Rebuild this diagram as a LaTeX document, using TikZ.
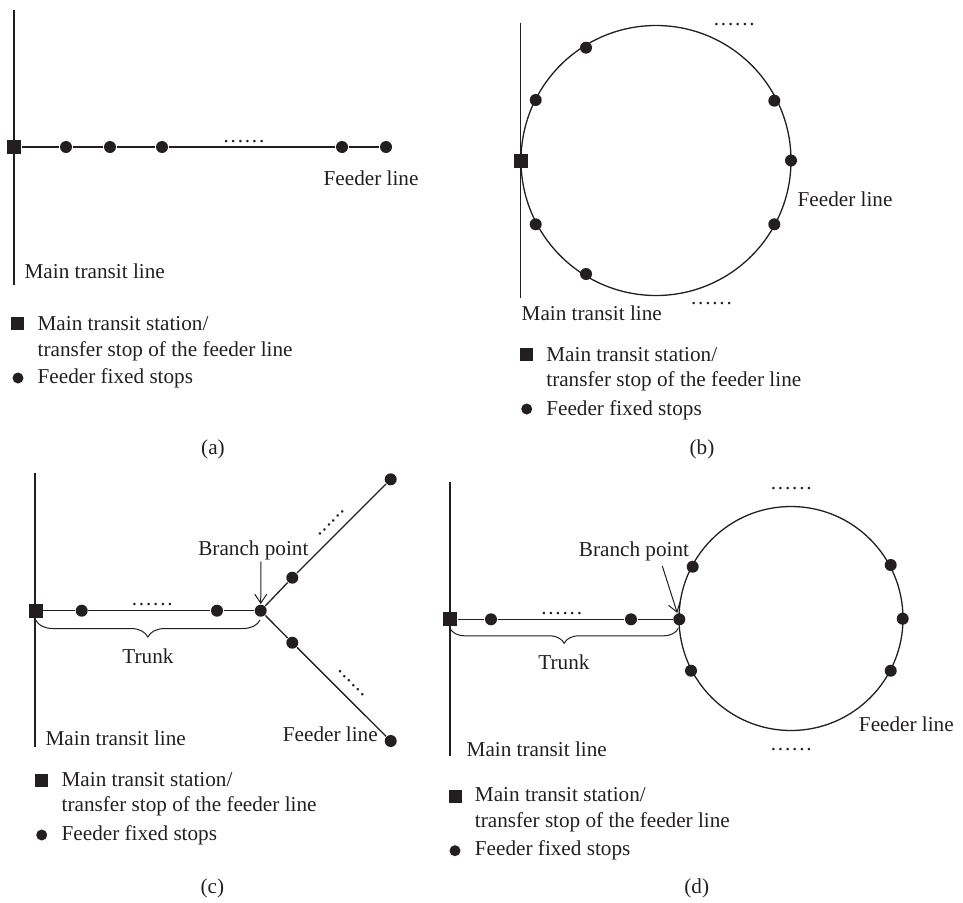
\documentclass[tikz,border=0pt]{standalone}
\usepackage{fontspec}
\setmainfont{Liberation Serif}
\usetikzlibrary{decorations.pathreplacing,arrows.meta}
\definecolor{ink}{RGB}{35,31,32}
\newcommand\sixdots[1]{.\kern#1.\kern#1.\kern#1.\kern#1.\kern#1.}
\begin{document}
\begin{tikzpicture}[x=1pt,y=-1pt,line width=1.3pt,draw=ink,
  every node/.style={font=\fontsize{21.2}{25}\selectfont,text=ink},
  stop/.style={circle,fill=ink,inner sep=0pt,minimum size=12pt},
  station/.style={rectangle,fill=ink,inner sep=0pt,minimum size=14pt},
  legsq/.style={rectangle,fill=ink,inner sep=0pt,minimum size=13pt},
  legdot/.style={circle,fill=ink,inner sep=0pt,minimum size=11pt},
  lbl/.style={anchor=base west,inner sep=0pt},
  ctr/.style={anchor=base,inner sep=0pt},
  ell/.style={inner sep=0pt},
  captxt/.style={inner sep=0pt},
  trunkbrace/.style={decorate,decoration={brace,mirror,amplitude=#1}},
  pointer/.style={-{Straight Barb[length=9pt,width=12pt]},line width=1pt}]
\useasboundingbox (0,0) rectangle (963,902);

% ---------------- (a) ----------------
\coordinate (aT) at (14,10);
\coordinate (aB) at (14,285);
\draw (aT) -- (aB);
\node[station] (aS) at (14,147) {};
\node[stop] (a1) at (66,147) {};
\node[stop] (a2) at (110,147) {};
\node[stop] (a3) at (162,147) {};
\node[stop] (a4) at (342,147) {};
\node[stop] (a5) at (386,147) {};
\draw (aS) -- (a1) -- (a2) -- (a3) -- (a4) -- (a5);
\node[ell] (aE) at (244,141.7) {\sixdots{1.8pt}};
\node[lbl] (aF) at (323,185) {Feeder line};
\node[lbl] (aM) at (24,278) {Main transit line};
\node[legsq] (aLS) at (17.5,323.5) {};
\node[lbl] (aL1) at (37,330) {Main transit station/};
\node[lbl] (aL2) at (37,356) {transfer stop of the feeder line};
\node[legdot] (aLD) at (18,378) {};
\node[lbl] (aL3) at (37,383) {Feeder fixed stops};
\node[captxt] (aC) at (213,449) {(a)};

% ---------------- (b) ----------------
\coordinate (bT) at (520.7,23);
\coordinate (bB) at (520.7,298);
\draw (bT) -- (bB);
\coordinate (bO) at (656,160.5);
\draw (bO) circle[radius=135];
\node[station] (bS) at (520.7,160.5) {};
\node[stop] (b1) at (586,47.7) {};
\node[stop] (b2) at (535.7,100) {};
\node[stop] (b3) at (774.3,100.7) {};
\node[stop] (b4) at (791,160.5) {};
\node[stop] (b5) at (774.3,224.3) {};
\node[stop] (b6) at (586,274) {};
\node[stop] (b7) at (535.7,224.3) {};
\node[ell] (bE1) at (734.3,25) {\sixdots{1.8pt}};
\node[ell] (bE2) at (711.5,304) {\sixdots{1.8pt}};
\node[lbl] (bF) at (797,206) {Feeder line};
\node[lbl] (bM) at (521,320) {Main transit line};
\node[legsq] (bLS) at (526.5,354.5) {};
\node[lbl] (bL1) at (545.7,361) {Main transit station/};
\node[lbl] (bL2) at (545.7,386) {transfer stop of the feeder line};
\node[legdot] (bLD) at (526.7,409) {};
\node[lbl] (bL3) at (545.7,415) {Feeder fixed stops};
\node[captxt] (bC) at (702,449) {(b)};

% ---------------- (c) ----------------
\coordinate (cT) at (35,472.7);
\coordinate (cB) at (35,747.3);
\draw (cT) -- (cB);
\node[station] (cS) at (35.7,610.7) {};
\node[stop] (c1) at (81.7,610.7) {};
\node[stop] (c2) at (217,610.7) {};
\node[stop] (cP) at (260.7,610.7) {};
\node[stop] (cU1) at (292.3,577.7) {};
\node[stop] (cU2) at (390.7,479.3) {};
\node[stop] (cD1) at (292.3,642.7) {};
\node[stop] (cD2) at (390.7,741) {};
\draw (cS) -- (c1) -- (c2) -- (cP);
\draw (cP) -- (cU1) -- (cU2);
\draw (cP) -- (cD1) -- (cD2);
\node[ell] (cE) at (152.3,605) {\sixdots{1.8pt}};
\node[ell,rotate=45] (cEU) at (331.2,523) {\sixdots{1pt}};
\node[ell,rotate=-45] (cED) at (351.2,683.2) {\sixdots{1pt}};
\coordinate (cBr1) at (35.7,620);
\coordinate (cBr2) at (260,620);
\draw[trunkbrace=17pt,line width=1pt] (cBr1) -- (cBr2);
\node[ctr] (cTr) at (148,663.3) {Trunk};
\node[lbl] (cBP) at (197.7,555) {Branch point};
\coordinate (cA1) at (261,561.7);
\draw[pointer] (cA1) -- (cP.north);
\node[lbl] (cF) at (282.3,741.7) {Feeder line};
\node[lbl] (cM) at (45,745) {Main transit line};
\node[legsq] (cLS) at (41.7,780) {};
\node[lbl] (cL1) at (61,786) {Main transit station/};
\node[lbl] (cL2) at (61,811.7) {transfer stop of the feeder line};
\node[legdot] (cLD) at (41.7,835) {};
\node[lbl] (cL3) at (61,840) {Feeder fixed stops};
\node[captxt] (cC) at (212.3,888.3) {(c)};

% ---------------- (d) ----------------
\coordinate (dT) at (450,481.7);
\coordinate (dB) at (450,756);
\draw (dT) -- (dB);
\coordinate (dO) at (791,618.5);
\draw (dO) circle[radius=112];
\node[station] (dS) at (450,619.3) {};
\node[stop] (d1) at (491,619.3) {};
\node[stop] (d2) at (631,619.3) {};
\node[stop] (dP) at (679.3,619.3) {};
\draw (dS) -- (d1) -- (d2) -- (dP);
\node[stop] (dR1) at (692.7,566.7) {};
\node[stop] (dR2) at (890.7,565) {};
\node[stop] (dR3) at (902.7,618.7) {};
\node[stop] (dR4) at (890.7,670.7) {};
\node[stop] (dR5) at (691,670.7) {};
\node[ell] (dE) at (561.7,614) {\sixdots{1.8pt}};
\node[ell] (dE1) at (791.3,488.3) {\sixdots{1.8pt}};
\node[ell] (dE2) at (791.3,749.3) {\sixdots{1.8pt}};
\coordinate (dBr1) at (450,628.3);
\coordinate (dBr2) at (678.3,628.3);
\draw[trunkbrace=15pt,line width=1pt] (dBr1) -- (dBr2);
\node[ctr] (dTr) at (564,669.3) {Trunk};
\node[lbl] (dBP) at (578.3,556) {Branch point};
\coordinate (dA1) at (662.3,566);
\draw[pointer] (dA1) -- (dP);
\node[lbl] (dF) at (858.3,731.7) {Feeder line};
\node[lbl] (dM) at (466,756.7) {Main transit line};
\node[legsq] (dLS) at (455.7,796) {};
\node[lbl] (dL1) at (474.3,801.7) {Main transit station/};
\node[lbl] (dL2) at (474.3,827.7) {transfer stop of the feeder line};
\node[legdot] (dLD) at (455,850.7) {};
\node[lbl] (dL3) at (474.3,855) {Feeder fixed stops};
\node[captxt] (dC) at (696.7,888.3) {(d)};
\end{tikzpicture}
\end{document}
